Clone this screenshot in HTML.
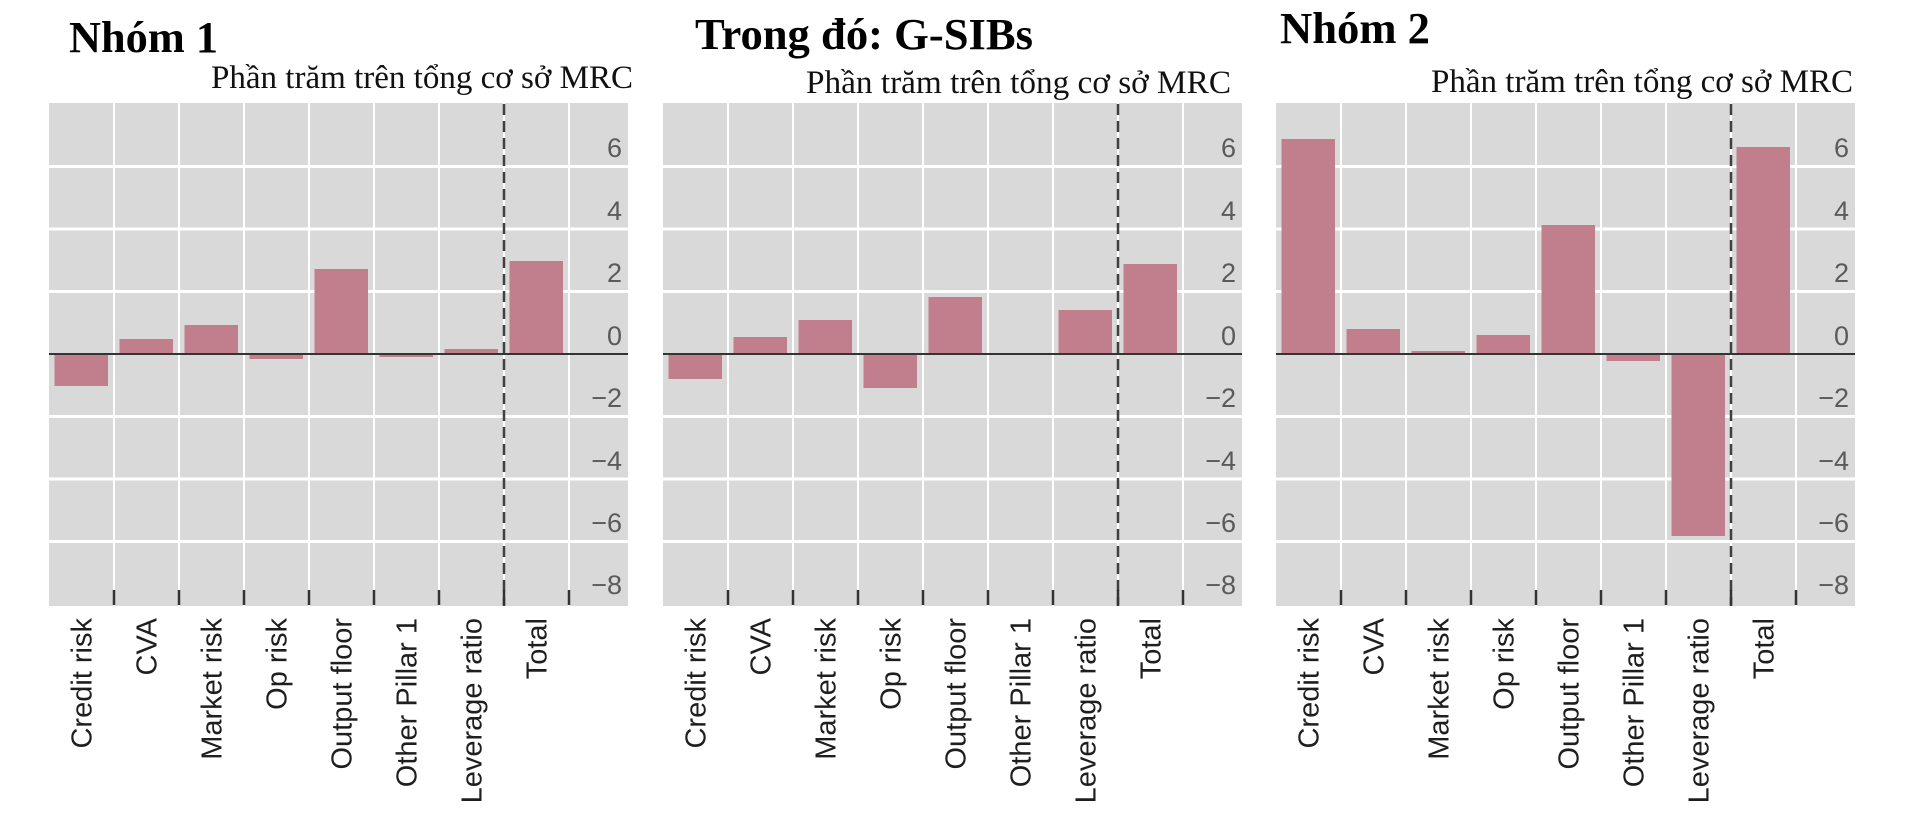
<!DOCTYPE html>
<html>
<head>
<meta charset="utf-8">
<style>
  html, body { margin:0; padding:0; background:#ffffff; }
  svg { display:block; }
  .title { font-family:"Liberation Serif", serif; font-weight:bold; font-size:44px; fill:#000; }
  .sub { font-family:"Liberation Serif", serif; font-size:33px; fill:#111; }
  .yl { font-family:"Liberation Sans", sans-serif; font-size:27px; fill:#5a5a5a; text-anchor:end; }
  .xl { font-family:"Liberation Sans", sans-serif; font-size:29px; fill:#1e1e1e; text-anchor:end; }
  .bar { fill:#c17e8d; }
</style>
</head>
<body>
<svg width="1920" height="821" viewBox="0 0 1920 821" xmlns="http://www.w3.org/2000/svg">
  <rect x="0" y="0" width="1920" height="821" fill="#ffffff"/>

  <!-- Titles -->
  <text class="title" x="69" y="52" textLength="149" lengthAdjust="spacingAndGlyphs">Nhóm 1</text>
  <text class="sub" x="211" y="88" textLength="422" lengthAdjust="spacingAndGlyphs">Phần trăm trên tổng cơ sở MRC</text>

  <text class="title" x="695" y="49" textLength="338" lengthAdjust="spacingAndGlyphs">Trong đó: G-SIBs</text>
  <text class="sub" x="806" y="93" textLength="425" lengthAdjust="spacingAndGlyphs">Phần trăm trên tổng cơ sở MRC</text>

  <text class="title" x="1280" y="43" textLength="150" lengthAdjust="spacingAndGlyphs">Nhóm 2</text>
  <text class="sub" x="1431" y="92" textLength="422" lengthAdjust="spacingAndGlyphs">Phần trăm trên tổng cơ sở MRC</text>

  <!-- ========== PANEL 1 ========== -->
  <g transform="translate(0,0)">
    <rect x="49" y="103" width="579" height="503" fill="#d9d9d9"/>
    <g stroke="#ffffff" stroke-width="3">
      <line x1="49" y1="166.5" x2="628" y2="166.5"/>
      <line x1="49" y1="229" x2="628" y2="229"/>
      <line x1="49" y1="291.5" x2="628" y2="291.5"/>
      <line x1="49" y1="416.5" x2="628" y2="416.5"/>
      <line x1="49" y1="479" x2="628" y2="479"/>
      <line x1="49" y1="541.5" x2="628" y2="541.5"/>
    </g>
    <g stroke="#ffffff" stroke-width="2">
      <line x1="114" y1="103" x2="114" y2="606"/>
      <line x1="179" y1="103" x2="179" y2="606"/>
      <line x1="244" y1="103" x2="244" y2="606"/>
      <line x1="309" y1="103" x2="309" y2="606"/>
      <line x1="374" y1="103" x2="374" y2="606"/>
      <line x1="439" y1="103" x2="439" y2="606"/>
      <line x1="504" y1="103" x2="504" y2="606"/>
      <line x1="569" y1="103" x2="569" y2="606"/>
    </g>
    <rect class="bar" x="54.5" y="354" width="53.5" height="32"/>
    <rect class="bar" x="119.5" y="339" width="53.5" height="15"/>
    <rect class="bar" x="184.5" y="325" width="53.5" height="29"/>
    <rect class="bar" x="249.5" y="354" width="53.5" height="5"/>
    <rect class="bar" x="314.5" y="269" width="53.5" height="85"/>
    <rect class="bar" x="379.5" y="354" width="53.5" height="3"/>
    <rect class="bar" x="444.5" y="349" width="53.5" height="5"/>
    <rect class="bar" x="509.5" y="261" width="53.5" height="93"/>
    <line x1="49" y1="354" x2="628" y2="354" stroke="#333" stroke-width="2"/>
    <line x1="504" y1="104" x2="504" y2="606" stroke="#404040" stroke-width="2.5" stroke-dasharray="11 6"/>
    <g stroke="#333" stroke-width="2.5">
      <line x1="114" y1="590" x2="114" y2="605"/>
      <line x1="179" y1="590" x2="179" y2="605"/>
      <line x1="244" y1="590" x2="244" y2="605"/>
      <line x1="309" y1="590" x2="309" y2="605"/>
      <line x1="374" y1="590" x2="374" y2="605"/>
      <line x1="439" y1="590" x2="439" y2="605"/>
      <line x1="504" y1="590" x2="504" y2="605"/>
      <line x1="569" y1="590" x2="569" y2="605"/>
    </g>
    <text class="yl" x="622" y="157">6</text>
    <text class="yl" x="622" y="220">4</text>
    <text class="yl" x="622" y="282">2</text>
    <text class="yl" x="622" y="345">0</text>
    <text class="yl" x="622" y="407">−2</text>
    <text class="yl" x="622" y="470">−4</text>
    <text class="yl" x="622" y="532">−6</text>
    <text class="yl" x="622" y="594">−8</text>
    <text class="xl" transform="translate(91.5,618) rotate(-90)">Credit risk</text>
    <text class="xl" transform="translate(156.5,618) rotate(-90)">CVA</text>
    <text class="xl" transform="translate(221.5,618) rotate(-90)">Market risk</text>
    <text class="xl" transform="translate(286.5,618) rotate(-90)">Op risk</text>
    <text class="xl" transform="translate(351.5,618) rotate(-90)">Output floor</text>
    <text class="xl" transform="translate(416.5,618) rotate(-90)">Other Pillar 1</text>
    <text class="xl" transform="translate(481.5,618) rotate(-90)">Leverage ratio</text>
    <text class="xl" transform="translate(546.5,618) rotate(-90)">Total</text>
  </g>

  <!-- ========== PANEL 2 ========== -->
  <g transform="translate(614,0)">
    <rect x="49" y="103" width="579" height="503" fill="#d9d9d9"/>
    <g stroke="#ffffff" stroke-width="3">
      <line x1="49" y1="166.5" x2="628" y2="166.5"/>
      <line x1="49" y1="229" x2="628" y2="229"/>
      <line x1="49" y1="291.5" x2="628" y2="291.5"/>
      <line x1="49" y1="416.5" x2="628" y2="416.5"/>
      <line x1="49" y1="479" x2="628" y2="479"/>
      <line x1="49" y1="541.5" x2="628" y2="541.5"/>
    </g>
    <g stroke="#ffffff" stroke-width="2">
      <line x1="114" y1="103" x2="114" y2="606"/>
      <line x1="179" y1="103" x2="179" y2="606"/>
      <line x1="244" y1="103" x2="244" y2="606"/>
      <line x1="309" y1="103" x2="309" y2="606"/>
      <line x1="374" y1="103" x2="374" y2="606"/>
      <line x1="439" y1="103" x2="439" y2="606"/>
      <line x1="504" y1="103" x2="504" y2="606"/>
      <line x1="569" y1="103" x2="569" y2="606"/>
    </g>
    <rect class="bar" x="54.5" y="354" width="53.5" height="25"/>
    <rect class="bar" x="119.5" y="337" width="53.5" height="17"/>
    <rect class="bar" x="184.5" y="320" width="53.5" height="34"/>
    <rect class="bar" x="249.5" y="354" width="53.5" height="34"/>
    <rect class="bar" x="314.5" y="297" width="53.5" height="57"/>
    <rect class="bar" x="379.5" y="353" width="53.5" height="2"/>
    <rect class="bar" x="444.5" y="310" width="53.5" height="44"/>
    <rect class="bar" x="509.5" y="264" width="53.5" height="90"/>
    <line x1="49" y1="354" x2="628" y2="354" stroke="#333" stroke-width="2"/>
    <line x1="504" y1="104" x2="504" y2="606" stroke="#404040" stroke-width="2.5" stroke-dasharray="11 6"/>
    <g stroke="#333" stroke-width="2.5">
      <line x1="114" y1="590" x2="114" y2="605"/>
      <line x1="179" y1="590" x2="179" y2="605"/>
      <line x1="244" y1="590" x2="244" y2="605"/>
      <line x1="309" y1="590" x2="309" y2="605"/>
      <line x1="374" y1="590" x2="374" y2="605"/>
      <line x1="439" y1="590" x2="439" y2="605"/>
      <line x1="504" y1="590" x2="504" y2="605"/>
      <line x1="569" y1="590" x2="569" y2="605"/>
    </g>
    <text class="yl" x="622" y="157">6</text>
    <text class="yl" x="622" y="220">4</text>
    <text class="yl" x="622" y="282">2</text>
    <text class="yl" x="622" y="345">0</text>
    <text class="yl" x="622" y="407">−2</text>
    <text class="yl" x="622" y="470">−4</text>
    <text class="yl" x="622" y="532">−6</text>
    <text class="yl" x="622" y="594">−8</text>
    <text class="xl" transform="translate(91.5,618) rotate(-90)">Credit risk</text>
    <text class="xl" transform="translate(156.5,618) rotate(-90)">CVA</text>
    <text class="xl" transform="translate(221.5,618) rotate(-90)">Market risk</text>
    <text class="xl" transform="translate(286.5,618) rotate(-90)">Op risk</text>
    <text class="xl" transform="translate(351.5,618) rotate(-90)">Output floor</text>
    <text class="xl" transform="translate(416.5,618) rotate(-90)">Other Pillar 1</text>
    <text class="xl" transform="translate(481.5,618) rotate(-90)">Leverage ratio</text>
    <text class="xl" transform="translate(546.5,618) rotate(-90)">Total</text>
  </g>

  <!-- ========== PANEL 3 ========== -->
  <g transform="translate(1227,0)">
    <rect x="49" y="103" width="579" height="503" fill="#d9d9d9"/>
    <g stroke="#ffffff" stroke-width="3">
      <line x1="49" y1="166.5" x2="628" y2="166.5"/>
      <line x1="49" y1="229" x2="628" y2="229"/>
      <line x1="49" y1="291.5" x2="628" y2="291.5"/>
      <line x1="49" y1="416.5" x2="628" y2="416.5"/>
      <line x1="49" y1="479" x2="628" y2="479"/>
      <line x1="49" y1="541.5" x2="628" y2="541.5"/>
    </g>
    <g stroke="#ffffff" stroke-width="2">
      <line x1="114" y1="103" x2="114" y2="606"/>
      <line x1="179" y1="103" x2="179" y2="606"/>
      <line x1="244" y1="103" x2="244" y2="606"/>
      <line x1="309" y1="103" x2="309" y2="606"/>
      <line x1="374" y1="103" x2="374" y2="606"/>
      <line x1="439" y1="103" x2="439" y2="606"/>
      <line x1="504" y1="103" x2="504" y2="606"/>
      <line x1="569" y1="103" x2="569" y2="606"/>
    </g>
    <rect class="bar" x="54.5" y="139" width="53.5" height="215"/>
    <rect class="bar" x="119.5" y="329" width="53.5" height="25"/>
    <rect class="bar" x="184.5" y="351" width="53.5" height="3"/>
    <rect class="bar" x="249.5" y="335" width="53.5" height="19"/>
    <rect class="bar" x="314.5" y="225" width="53.5" height="129"/>
    <rect class="bar" x="379.5" y="354" width="53.5" height="7"/>
    <rect class="bar" x="444.5" y="354" width="53.5" height="182"/>
    <rect class="bar" x="509.5" y="147" width="53.5" height="207"/>
    <line x1="49" y1="354" x2="628" y2="354" stroke="#333" stroke-width="2"/>
    <line x1="504" y1="104" x2="504" y2="606" stroke="#404040" stroke-width="2.5" stroke-dasharray="11 6"/>
    <g stroke="#333" stroke-width="2.5">
      <line x1="114" y1="590" x2="114" y2="605"/>
      <line x1="179" y1="590" x2="179" y2="605"/>
      <line x1="244" y1="590" x2="244" y2="605"/>
      <line x1="309" y1="590" x2="309" y2="605"/>
      <line x1="374" y1="590" x2="374" y2="605"/>
      <line x1="439" y1="590" x2="439" y2="605"/>
      <line x1="504" y1="590" x2="504" y2="605"/>
      <line x1="569" y1="590" x2="569" y2="605"/>
    </g>
    <text class="yl" x="622" y="157">6</text>
    <text class="yl" x="622" y="220">4</text>
    <text class="yl" x="622" y="282">2</text>
    <text class="yl" x="622" y="345">0</text>
    <text class="yl" x="622" y="407">−2</text>
    <text class="yl" x="622" y="470">−4</text>
    <text class="yl" x="622" y="532">−6</text>
    <text class="yl" x="622" y="594">−8</text>
    <text class="xl" transform="translate(91.5,618) rotate(-90)">Credit risk</text>
    <text class="xl" transform="translate(156.5,618) rotate(-90)">CVA</text>
    <text class="xl" transform="translate(221.5,618) rotate(-90)">Market risk</text>
    <text class="xl" transform="translate(286.5,618) rotate(-90)">Op risk</text>
    <text class="xl" transform="translate(351.5,618) rotate(-90)">Output floor</text>
    <text class="xl" transform="translate(416.5,618) rotate(-90)">Other Pillar 1</text>
    <text class="xl" transform="translate(481.5,618) rotate(-90)">Leverage ratio</text>
    <text class="xl" transform="translate(546.5,618) rotate(-90)">Total</text>
  </g>
</svg>
</body>
</html>
